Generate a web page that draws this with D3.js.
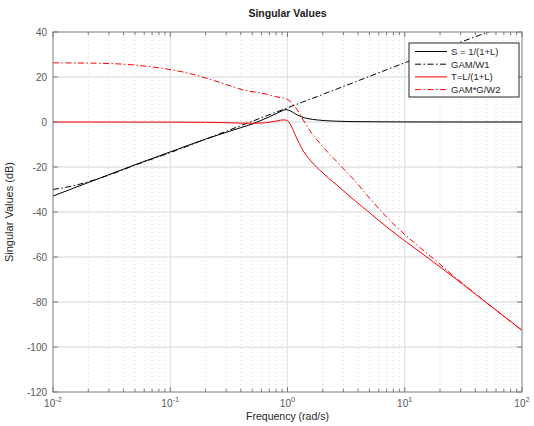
<!DOCTYPE html>
<html>
<head>
<meta charset="utf-8">
<script src="https://cdn.jsdelivr.net/npm/d3@7"></script>
<style>
  body { margin: 0; background: #fff; }
  text { font-family: "Liberation Sans", Arial, sans-serif; }
</style>
</head>
<body>
<svg id="chart" width="534" height="426"></svg>
<script>
// values (frequency in rad/s, magnitude in dB)
const freqS = [0.01, 0.015, 0.03, 0.05, 0.1, 0.2, 0.3, 0.4, 0.5, 0.6, 0.7, 0.8, 0.9, 0.97, 1.05, 1.15, 1.3, 1.5, 1.8, 2.5, 4, 10, 100];
const valS  = [-32.9, -29.4, -23.4, -19.0, -13.3, -7.6, -4.6, -2.5, -0.9, 0.8, 2.3, 3.7, 5.0, 5.5, 5.0, 3.8, 2.4, 1.5, 0.9, 0.4, 0.15, 0.02, 0];

const freqW1 = [0.01, 0.015, 0.022, 0.03, 0.05, 0.1, 0.3, 1, 3, 10, 30, 100];
const valW1  = [-30.0, -28.3, -25.9, -23.6, -19.2, -13.6, -4.1, 6.3, 15.8, 26.3, 35.5, 45.5];

const freqT = [0.01, 0.1, 0.2, 0.3, 0.4, 0.5, 0.6, 0.7, 0.8, 0.87, 0.93, 1, 1.05, 1.1, 1.16, 1.26, 1.36, 1.48, 1.58, 1.78, 2, 2.24, 2.63, 3.16, 3.63, 5, 7.08, 10, 13.5, 20, 31.6, 50, 100];
const valT  = [0, -0.05, -0.15, -0.3, -0.5, -0.55, -0.45, -0.1, 0.4, 0.8, 0.95, 0.6, -0.8, -2.8, -5.6, -9.5, -12.8, -15.5, -17.3, -20.2, -22.6, -25.0, -28.0, -31.6, -34.3, -40.3, -46.8, -52.8, -57.8, -64.4, -72.3, -80.4, -92.6];

const freqW2 = [0.01, 0.025, 0.05, 0.087, 0.148, 0.25, 0.44, 0.66, 0.79, 1, 1.12, 1.26, 1.36, 1.55, 1.78, 2, 2.6, 3.16, 3.63, 5, 7.08, 10, 13.5, 18.6, 25.7, 31.6, 50, 100];
const valW2  = [26.3, 26.1, 25.3, 23.8, 21.5, 18.0, 14.0, 12.4, 11.3, 10.0, 7.8, 4.0, 1.0, -3.8, -7.8, -11.0, -17.3, -22.0, -25.3, -33.8, -42.5, -50.0, -55.8, -61.8, -68.2, -72.0, -80.4, -92.6];

const seriesNames = ['S = 1/(1+L)', 'GAM/W1', 'T=L/(1+L)', 'GAM*G/W2'];
const yTicks = [-120, -100, -80, -60, -40, -20, 0, 20, 40];
const xDecades = [0.01, 0.1, 1, 10, 100];
const xExponents = ['-2', '-1', '0', '1', '2'];

const svg = d3.select('#chart');
const m = { left: 53, right: 522, top: 32, bottom: 392 };

const x = d3.scaleLog().domain([0.01, 100]).range([m.left, m.right]);
const y = d3.scaleLinear().domain([-120, 40]).range([m.bottom, m.top]);

// grid
const minors = [];
xDecades.slice(0, -1).forEach(d => { for (let k = 2; k <= 9; k++) minors.push(d * k); });

svg.append('g').selectAll('line').data(minors).enter().append('line')
  .attr('x1', d => x(d)).attr('x2', d => x(d))
  .attr('y1', m.top).attr('y2', m.bottom)
  .attr('stroke', '#d9d9d9').attr('stroke-width', 1).attr('stroke-dasharray', '1,3');

svg.append('g').selectAll('line').data(xDecades.slice(1, -1)).enter().append('line')
  .attr('x1', d => x(d)).attr('x2', d => x(d))
  .attr('y1', m.top).attr('y2', m.bottom)
  .attr('stroke', '#e3e3e3').attr('stroke-width', 1.3);

svg.append('g').selectAll('line').data(yTicks.slice(1, -1)).enter().append('line')
  .attr('x1', m.left).attr('x2', m.right)
  .attr('y1', d => y(d)).attr('y2', d => y(d))
  .attr('stroke', '#e3e3e3').attr('stroke-width', 1.3);

// curves
svg.append('clipPath').attr('id', 'clip').append('rect')
  .attr('x', m.left).attr('y', m.top).attr('width', m.right - m.left).attr('height', m.bottom - m.top);
const plot = svg.append('g').attr('clip-path', 'url(#clip)');

const line = d3.line().x(d => x(d[0])).y(d => y(d[1])).curve(d3.curveMonotoneX);
const dashDot = '6,2.5,1.5,2.5';
const series = [
  { f: freqS, v: valS, color: '#000', dash: null },
  { f: freqW1, v: valW1, color: '#000', dash: dashDot },
  { f: freqT, v: valT, color: '#ff0000', dash: null },
  { f: freqW2, v: valW2, color: '#ff0000', dash: dashDot }
];
series.forEach(s => {
  plot.append('path')
    .attr('d', line(d3.zip(s.f, s.v)))
    .attr('fill', 'none')
    .attr('stroke', s.color)
    .attr('stroke-width', 1)
    .attr('stroke-dasharray', s.dash);
});

// axes box and ticks (inward, all sides)
const axisColor = '#7a7a7a';
svg.append('rect').attr('x', m.left).attr('y', m.top)
  .attr('width', m.right - m.left).attr('height', m.bottom - m.top)
  .attr('fill', 'none').attr('stroke', axisColor).attr('stroke-width', 1);

const ticksG = svg.append('g').attr('stroke', axisColor).attr('stroke-width', 1);
[m.bottom, m.top].forEach(edge => {
  const dir = edge === m.bottom ? -1 : 1;
  xDecades.forEach(d => ticksG.append('line')
    .attr('x1', x(d)).attr('x2', x(d)).attr('y1', edge).attr('y2', edge + dir * 5));
  minors.forEach(d => ticksG.append('line')
    .attr('x1', x(d)).attr('x2', x(d)).attr('y1', edge).attr('y2', edge + dir * 3));
});
[m.left, m.right].forEach(edge => {
  const dir = edge === m.left ? 1 : -1;
  yTicks.forEach(d => ticksG.append('line')
    .attr('x1', edge).attr('x2', edge + dir * 5).attr('y1', y(d)).attr('y2', y(d)));
});

// tick labels
const labelColor = '#595959';
svg.append('g').selectAll('text').data(yTicks).enter().append('text')
  .attr('x', m.left - 6).attr('y', d => y(d) + 3.5)
  .attr('text-anchor', 'end').attr('font-size', 10).attr('fill', labelColor)
  .text(d => d);

xDecades.forEach((d, i) => {
  const t = svg.append('text')
    .attr('x', x(d)).attr('y', 407)
    .attr('text-anchor', 'middle').attr('font-size', 10).attr('fill', labelColor);
  t.append('tspan').text('10');
  t.append('tspan').attr('dy', -5).attr('font-size', 7.5).text(xExponents[i]);
});

// titles
svg.append('text').attr('x', (m.left + m.right) / 2).attr('y', 17)
  .attr('text-anchor', 'middle').attr('font-size', 10.5).attr('font-weight', 'bold')
  .attr('fill', '#1a1a1a').text('Singular Values');

svg.append('text').attr('x', (m.left + m.right) / 2).attr('y', 420)
  .attr('text-anchor', 'middle').attr('font-size', 10.5).attr('fill', '#262626')
  .text('Frequency (rad/s)');

svg.append('text')
  .attr('transform', `translate(13,${(m.top + m.bottom) / 2}) rotate(-90)`)
  .attr('text-anchor', 'middle').attr('font-size', 11).attr('fill', '#262626')
  .text('Singular Values (dB)');

// legend
const lg = svg.append('g').attr('transform', 'translate(409,43)');
lg.append('rect').attr('width', 110).attr('height', 54)
  .attr('fill', '#fff').attr('stroke', '#262626').attr('stroke-width', 1);
series.forEach((s, i) => {
  const ly = 8.5 + i * 12.7;
  lg.append('line').attr('x1', 6).attr('x2', 38).attr('y1', ly).attr('y2', ly)
    .attr('stroke', s.color).attr('stroke-width', 1).attr('stroke-dasharray', s.dash);
  lg.append('text').attr('x', 42).attr('y', ly + 3.5)
    .attr('font-size', 9.5).attr('fill', '#262626').text(seriesNames[i]);
});
</script>
</body>
</html>
